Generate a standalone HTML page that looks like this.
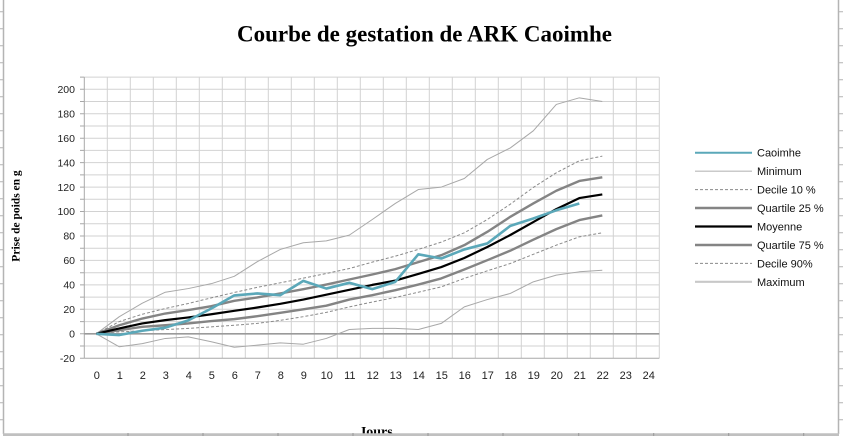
<!DOCTYPE html>
<html><head><meta charset="utf-8"><style>
html,body{margin:0;padding:0;background:#fff;}
svg{display:block;}
</style></head><body>
<svg width="843" height="436" viewBox="0 0 843 436" xmlns="http://www.w3.org/2000/svg">
<rect width="843" height="436" fill="#fff"/>
<!-- spreadsheet frame -->
<g stroke="#b4b4b4" stroke-width="1.5" fill="none">
<line x1="3.5" y1="0" x2="3.5" y2="434"/>
<line x1="838.5" y1="0" x2="838.5" y2="434"/>
</g>
<g stroke="#b4b4b4" stroke-width="1">
<path d="M0 11.7h3.5M0 28.7h3.5M0 45.7h3.5M0 62.7h3.5M0 79.7h3.5M0 96.7h3.5M0 113.7h3.5M0 130.7h3.5M0 147.7h3.5M0 164.7h3.5M0 181.7h3.5M0 198.7h3.5M0 215.7h3.5M0 232.7h3.5M0 249.7h3.5M0 266.7h3.5M0 283.7h3.5M0 300.7h3.5M0 317.7h3.5M0 334.7h3.5M0 351.7h3.5M0 368.7h3.5M0 385.7h3.5M0 402.7h3.5M0 419.7h3.5"/>
<path d="M838.5 11.7h5M838.5 28.7h5M838.5 45.7h5M838.5 62.7h5M838.5 79.7h5M838.5 96.7h5M838.5 113.7h5M838.5 130.7h5M838.5 147.7h5M838.5 164.7h5M838.5 181.7h5M838.5 198.7h5M838.5 215.7h5M838.5 232.7h5M838.5 249.7h5M838.5 266.7h5M838.5 283.7h5M838.5 300.7h5M838.5 317.7h5M838.5 334.7h5M838.5 351.7h5M838.5 368.7h5M838.5 385.7h5M838.5 402.7h5M838.5 419.7h5"/>
</g>

<!-- title -->
<text x="237" y="41.5" font-family="'Liberation Serif',serif" font-weight="bold" font-size="23" fill="#000">Courbe de gestation de ARK Caoimhe</text>

<!-- y axis title -->
<text transform="translate(19.5,216) rotate(-90)" text-anchor="middle" font-family="'Liberation Serif',serif" font-weight="bold" font-size="11.5" fill="#000">Prise de poids en g</text>

<!-- grid -->
<g stroke="#d2d2d2" stroke-width="1">
<path d="M84.3 77.1H659.3M84.3 89.3H659.3M84.3 101.5H659.3M84.3 113.8H659.3M84.3 126.0H659.3M84.3 138.2H659.3M84.3 150.4H659.3M84.3 162.6H659.3M84.3 174.9H659.3M84.3 187.1H659.3M84.3 199.3H659.3M84.3 211.5H659.3M84.3 223.8H659.3M84.3 236.0H659.3M84.3 248.2H659.3M84.3 260.4H659.3M84.3 272.7H659.3M84.3 284.9H659.3M84.3 297.1H659.3M84.3 309.3H659.3M84.3 321.6H659.3M84.3 346.0H659.3"/>
<path d="M107.3 77.1V358.3M130.3 77.1V358.3M153.3 77.1V358.3M176.3 77.1V358.3M199.3 77.1V358.3M222.3 77.1V358.3M245.3 77.1V358.3M268.3 77.1V358.3M291.3 77.1V358.3M314.3 77.1V358.3M337.3 77.1V358.3M360.3 77.1V358.3M383.3 77.1V358.3M406.3 77.1V358.3M429.3 77.1V358.3M452.3 77.1V358.3M475.3 77.1V358.3M498.3 77.1V358.3M521.3 77.1V358.3M544.3 77.1V358.3M567.3 77.1V358.3M590.3 77.1V358.3M613.3 77.1V358.3M636.3 77.1V358.3M659.3 77.1V358.3"/>
</g>
<g stroke="#a8a8a8" stroke-width="1">
<line x1="84.3" y1="358.3" x2="659.3" y2="358.3"/>
<line x1="84.3" y1="77.1" x2="84.3" y2="358.3"/>
<path d="M80 77.1h4.3M80 89.3h4.3M80 101.5h4.3M80 113.8h4.3M80 126.0h4.3M80 138.2h4.3M80 150.4h4.3M80 162.6h4.3M80 174.9h4.3M80 187.1h4.3M80 199.3h4.3M80 211.5h4.3M80 223.8h4.3M80 236.0h4.3M80 248.2h4.3M80 260.4h4.3M80 272.7h4.3M80 284.9h4.3M80 297.1h4.3M80 309.3h4.3M80 321.6h4.3M80 333.8h4.3M80 346.0h4.3M80 358.3h4.3"/>
</g>
<line x1="84.3" y1="333.8" x2="659.3" y2="333.8" stroke="#9a9a9a" stroke-width="1.6"/>

<!-- y labels -->
<g font-family="'Liberation Sans',sans-serif" font-size="10.5" fill="#222" text-anchor="end">
<text x="75" y="93">200</text>
<text x="75" y="117.5">180</text>
<text x="75" y="142">160</text>
<text x="75" y="166.3">140</text>
<text x="75" y="190.8">120</text>
<text x="75" y="215.2">100</text>
<text x="75" y="239.7">80</text>
<text x="75" y="264.1">60</text>
<text x="75" y="288.6">40</text>
<text x="75" y="313">20</text>
<text x="75" y="337.5">0</text>
<text x="75" y="362">-20</text>
</g>
<!-- x labels -->
<g font-family="'Liberation Sans',sans-serif" font-size="11" fill="#222" text-anchor="middle">
<text x="96.8" y="379">0</text><text x="119.8" y="379">1</text><text x="142.8" y="379">2</text><text x="165.8" y="379">3</text><text x="188.8" y="379">4</text><text x="211.8" y="379">5</text><text x="234.8" y="379">6</text><text x="257.8" y="379">7</text><text x="280.8" y="379">8</text><text x="303.8" y="379">9</text><text x="326.8" y="379">10</text><text x="349.8" y="379">11</text><text x="372.8" y="379">12</text><text x="395.8" y="379">13</text><text x="418.8" y="379">14</text><text x="441.8" y="379">15</text><text x="464.8" y="379">16</text><text x="487.8" y="379">17</text><text x="510.8" y="379">18</text><text x="533.8" y="379">19</text><text x="556.8" y="379">20</text><text x="579.8" y="379">21</text><text x="602.8" y="379">22</text><text x="625.8" y="379">23</text><text x="648.8" y="379">24</text>
</g>

<!-- series -->
<g transform="translate(96.3,333.8) scale(23,-1.2227)" fill="none" stroke-linejoin="round">
<polyline vector-effect="non-scaling-stroke" stroke="#a8a8a8" stroke-width="1" points="0,0 1,14 2,25 3,34 4,37 5,41 6,47 7,59 8,69 9,74.5 10,76 11,80.7 12,93.5 13,106.6 14,118 15,120 16,127 17,142.6 18,152 19,166 20,187.6 21,193 22,190"/>
<polyline vector-effect="non-scaling-stroke" stroke="#a8a8a8" stroke-width="1" points="0,0 1,-10.6 2,-8 3,-3.8 4,-2.5 5,-6.5 6,-11 7,-9.3 8,-7.4 9,-8.5 10,-3.8 11,3.5 12,4.4 13,4.4 14,3.5 15,8.5 16,22 17,28 18,33 19,42.5 20,48 21,50.7 22,52"/>
<polyline vector-effect="non-scaling-stroke" stroke="#8a8a8a" stroke-width="1" stroke-dasharray="3,2" points="0,0 1,10 2,16 3,20.7 4,24.8 5,29.4 6,33.8 7,38 8,41.7 9,45.5 10,49.3 11,53.4 12,58.6 13,63.5 14,69 15,75 16,82.6 17,93.5 18,106 19,119.7 20,131.7 21,141.5 22,145.3"/>
<polyline vector-effect="non-scaling-stroke" stroke="#8a8a8a" stroke-width="1" stroke-dasharray="3,2" points="0,0 1,1.6 2,2.5 3,3.5 4,4.4 5,5.7 6,7 7,8.5 8,11 9,14 10,17.5 11,22 12,26 13,29.7 14,34 15,38.4 16,45.3 17,51.5 18,57.5 19,65 20,72.5 21,79.3 22,82.6"/>
<polyline vector-effect="non-scaling-stroke" stroke="#848484" stroke-width="2.4" points="0,0 1,7 2,12.5 3,16.6 4,19.4 5,22.6 6,27 7,29.7 8,33 9,36.5 10,40.3 11,44.4 12,48.5 13,52.9 14,58.6 15,64.3 16,72.5 17,83.4 18,95.7 19,106.6 20,117 21,125 22,128"/>
<polyline vector-effect="non-scaling-stroke" stroke="#848484" stroke-width="2.4" points="0,0 1,3 2,5.7 3,7 4,8.5 5,10.4 6,12 7,14.4 8,17.2 9,20 10,23 11,28 12,31.6 13,35.7 14,40.3 15,45.3 16,52.6 17,60.2 18,68 19,77 20,85.6 21,93 22,96.8"/>
<polyline vector-effect="non-scaling-stroke" stroke="#000" stroke-width="2.2" points="0,0 1,4.4 2,8.5 3,11.2 4,13.4 5,16 6,18.8 7,21.5 8,24.5 9,28 10,32 11,36 12,40 13,43.5 14,49 15,54.6 16,62 17,71 18,80.8 19,91.4 20,102 21,111 22,114"/>
<polyline vector-effect="non-scaling-stroke" stroke="#5ba8b9" stroke-width="2.6" points="0,0 1,-1 2,2.5 3,5 4,11 5,20.7 6,31.4 7,33 8,31.6 9,43.3 10,37 11,41.7 12,36.5 13,42.5 14,65 15,61.6 16,69 17,73.9 18,88.3 19,94.3 20,101 21,106.6"/>
</g>

<!-- legend -->
<g fill="none">
<line x1="695" y1="152.7" x2="752" y2="152.7" stroke="#5ba8b9" stroke-width="2"/>
<line x1="695" y1="171.2" x2="752" y2="171.2" stroke="#b8b8b8" stroke-width="1.2"/>
<line x1="695" y1="189.6" x2="752" y2="189.6" stroke="#8a8a8a" stroke-width="1" stroke-dasharray="3,2"/>
<line x1="695" y1="208" x2="752" y2="208" stroke="#848484" stroke-width="2.4"/>
<line x1="695" y1="226.5" x2="752" y2="226.5" stroke="#000" stroke-width="2.2"/>
<line x1="695" y1="245" x2="752" y2="245" stroke="#848484" stroke-width="2.4"/>
<line x1="695" y1="263.4" x2="752" y2="263.4" stroke="#8a8a8a" stroke-width="1" stroke-dasharray="3,2"/>
<line x1="695" y1="281.8" x2="752" y2="281.8" stroke="#c8c8c8" stroke-width="2.2"/>
</g>
<g font-family="'Liberation Sans',sans-serif" font-size="11" fill="#111">
<text x="757" y="156.7">Caoimhe</text>
<text x="757" y="175.2">Minimum</text>
<text x="757" y="193.6">Decile 10 %</text>
<text x="757" y="212">Quartile 25 %</text>
<text x="757" y="230.5">Moyenne</text>
<text x="757" y="249">Quartile 75 %</text>
<text x="757" y="267.4">Decile 90%</text>
<text x="757" y="285.8">Maximum</text>
</g>

<!-- x axis title (partially cut) -->
<text x="376" y="436" text-anchor="middle" font-family="'Liberation Serif',serif" font-weight="bold" font-size="14" fill="#000">Jours</text>

<!-- bottom frame line -->
<line x1="3" y1="434.6" x2="839" y2="434.6" stroke="#c0c0c0" stroke-width="2.8"/>
<g stroke="#999" stroke-width="1">
<path d="M128 433v3M203 433v3M278 433v3M353 433v3M428 433v3M503 433v3M578.7 433v3M653.7 433v3M728.7 433v3M803.7 433v3"/>
</g>
</svg>
</body></html>
